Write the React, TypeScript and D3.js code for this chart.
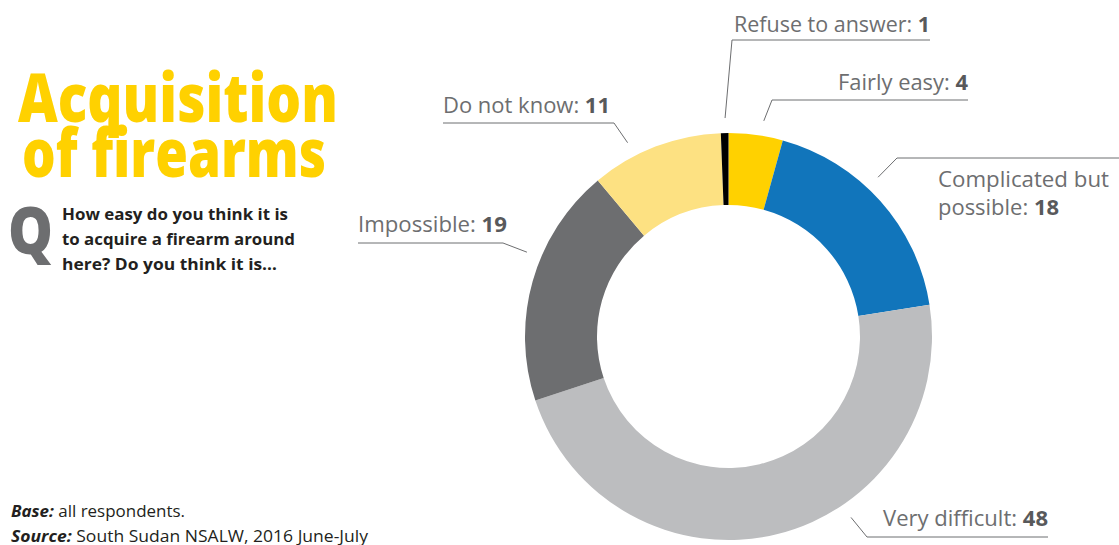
import React from "react";
import * as d3 from "d3";

const categories = ["Fairly easy", "Complicated but possible", "Very difficult", "Impossible", "Do not know", "Refuse to answer"];
const labelValues = [4, 18, 48, 19, 11, 1];
// slice shares as measured from the arc angles in the picture
const shares = [4.3, 18.2, 47.4, 19.0, 10.5, 0.6];
const colors = ["#FFD100", "#1175BB", "#BCBDBF", "#6D6E70", "#FDE182", "#000000"];

const W = 1119, H = 545;
const cx = 728.5, cy = 336.5, R = 203.5, r = 131.5;

// label layout: text lines, text x, baselines, underline y, elbow x, underline end x, leader angle (deg)
const layout = [
  { lines: ["Fairly easy: "], x: 838, ys: [90], uy: 100, ex: 772, ux2: 968, ang: 9.3, width: 130 },
  { lines: ["Complicated but", "possible: "], x: 938, ys: [187, 215], uy: 158, ex: 897, ux2: 1119, ang: 43.2, width: 0 },
  { lines: ["Very difficult: "], x: 883, ys: [526], uy: 537, ex: 867, ux2: 1048, ang: 145.9, width: 165 },
  { lines: ["Impossible: "], x: 358, ys: [232], uy: 243, ex: 503, ux2: 358, ang: 292.7, width: 149 },
  { lines: ["Do not know: "], x: 443, ys: [113], uy: 123, ex: 614, ux2: 443, ang: 332.5, width: 167 },
  { lines: ["Refuse to answer: "], x: 734, ys: [32], uy: 40, ex: 732, ux2: 930, ang: -0.9, width: 196 },
];

const labelColor = "#6D6E70";
const numColor = "#58595B";
const font = "'Open Sans', 'Noto Sans', sans-serif";

export default function App() {
  const pie = d3.pie<number>().sort(null).value((d) => d).startAngle(0).endAngle(2 * Math.PI);
  const arcs = pie(shares);
  const arc = d3.arc<d3.PieArcDatum<number>>().innerRadius(r).outerRadius(R);

  return (
    <svg width={W} height={H} style={{ position: "absolute", left: 0, top: 0, display: "block", background: "#fff" }}>
      {/* Title */}
      <text x={18} y={122} fontFamily={font} fontWeight={800} fontSize={68} fill="#FFD100" textLength={320} lengthAdjust="spacingAndGlyphs">Acquisition</text>
      <text x={22} y={177} fontFamily={font} fontWeight={800} fontSize={68} fill="#FFD100" textLength={304} lengthAdjust="spacingAndGlyphs">of firearms</text>

      {/* Q */}
      <text x={8} y={254} fontFamily={font} fontWeight={800} fontSize={66} fill="#6D6E70" textLength={45} lengthAdjust="spacingAndGlyphs">Q</text>
      <text x={62} y={220} fontFamily={font} fontWeight={700} fontSize={15.5} fill="#231F20" textLength={226} lengthAdjust="spacingAndGlyphs">How easy do you think it is</text>
      <text x={62} y={245} fontFamily={font} fontWeight={700} fontSize={15.5} fill="#231F20" textLength={233} lengthAdjust="spacingAndGlyphs">to acquire a firearm around</text>
      <text x={62} y={270} fontFamily={font} fontWeight={700} fontSize={15.5} fill="#231F20" textLength={215} lengthAdjust="spacingAndGlyphs">here? Do you think it is…</text>

      {/* Footer */}
      <text x={11} y={517} fontFamily={font} fontSize={15.5} fill="#231F20" textLength={174} lengthAdjust="spacingAndGlyphs">
        <tspan fontWeight={700} fontStyle="italic">Base:</tspan> all respondents.
      </text>
      <text x={11} y={542} fontFamily={font} fontSize={15.5} fill="#231F20" textLength={357} lengthAdjust="spacingAndGlyphs">
        <tspan fontWeight={700} fontStyle="italic">Source:</tspan> South Sudan NSALW, 2016 June-July
      </text>

      {/* Donut */}
      <g transform={`translate(${cx},${cy})`}>
        {arcs.map((a, i) => (
          <path key={categories[i]} d={arc(a) || ""} fill={colors[i]} />
        ))}
      </g>

      {/* Labels and leaders */}
      {layout.map((L, i) => {
        const t = (L.ang * Math.PI) / 180;
        const px = cx + (R + 15) * Math.sin(t);
        const py = cy - (R + 15) * Math.cos(t);
        const pts = [[px, py], [L.ex, L.uy], [L.ux2, L.uy]];
        const line = d3.line()(pts as [number, number][]) || "";
        const last = L.lines.length - 1;
        return (
          <g key={categories[i]}>
            <path d={line} fill="none" stroke={labelColor} strokeWidth={1} />
            {L.lines.map((ln, j) => (
              <text
                key={j}
                x={L.x}
                y={L.ys[j]}
                fontFamily={font}
                fontSize={21}
                fill={labelColor}
                {...(j === last && L.width ? { textLength: L.width, lengthAdjust: "spacingAndGlyphs" } : {})}
                {...(i === 1 ? { textLength: j === 0 ? 171 : 121, lengthAdjust: "spacingAndGlyphs" } : {})}
              >
                {ln}
                {j === last && <tspan fontWeight={700} fill={numColor}>{labelValues[i]}</tspan>}
              </text>
            ))}
          </g>
        );
      })}
    </svg>
  );
}
